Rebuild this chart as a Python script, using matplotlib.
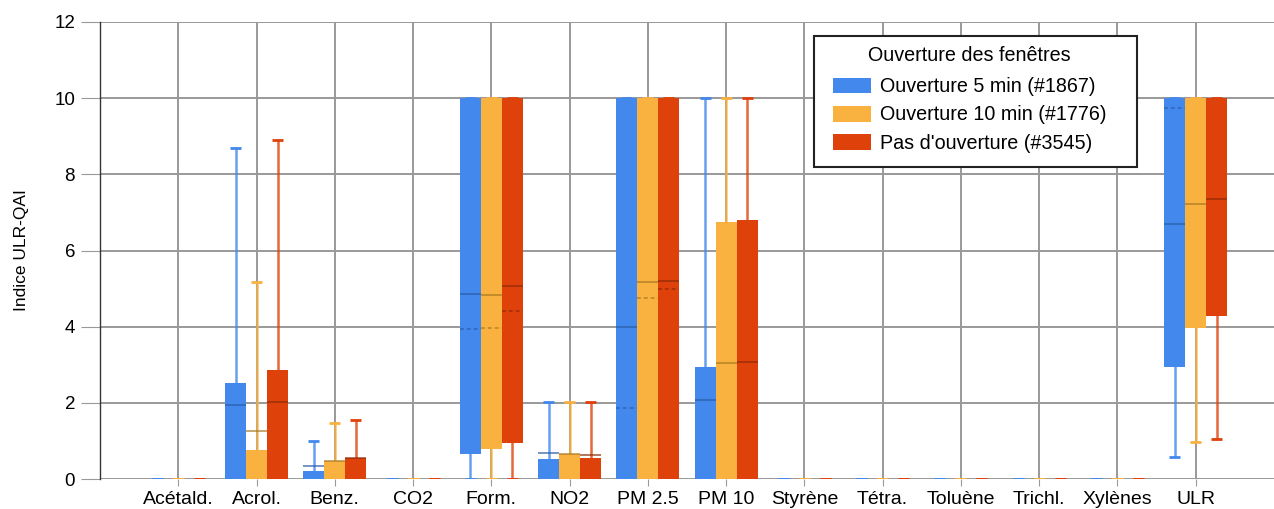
import numpy as np
import matplotlib
matplotlib.use("Agg")
import matplotlib.pyplot as plt
from matplotlib.patches import Patch, Rectangle

plt.rcParams['font.family'] = ['Liberation Sans', 'DejaVu Sans']

categories = ['Acétald.', 'Acrol.', 'Benz.', 'CO2', 'Form.', 'NO2', 'PM 2.5',
              'PM 10', 'Styrène', 'Tétra.', 'Toluène', 'Trichl.', 'Xylènes', 'ULR']
series = ['Ouverture 5 min (#1867)', 'Ouverture 10 min (#1776)', "Pas d'ouverture (#3545)"]
colors = ['#4288ED', '#F9B140', '#DF410B']
dark = ['#2A5CA8', '#A87820', '#8E2A06']

# per series: lists over categories (None where not visible)
whisk_lo = [
    [0, 0, 0, 0, 0, 0, 0, 0, 0, 0, 0, 0, 0, 0.57],
    [0, 0, 0, 0, 0, 0, 0, 0, 0, 0, 0, 0, 0, 0.97],
    [0, 0, 0, 0, 0, 0, 0, 0, 0, 0, 0, 0, 0, 1.06],
]
q1 = [
    [0, 0, 0, 0, 0.66, 0, 0, 0, 0, 0, 0, 0, 0, 2.95],
    [0, 0, 0, 0, 0.78, 0, 0, 0, 0, 0, 0, 0, 0, 3.97],
    [0, 0, 0, 0, 0.95, 0, 0, 0, 0, 0, 0, 0, 0, 4.29],
]
q3 = [
    [0, 2.51, 0.21, 0, 10, 0.53, 10, 2.94, 0, 0, 0, 0, 0, 10],
    [0, 0.76, 0.48, 0, 10, 0.65, 10, 6.76, 0, 0, 0, 0, 0, 10],
    [0, 2.85, 0.54, 0, 10, 0.56, 10, 6.80, 0, 0, 0, 0, 0, 10],
]
whisk_hi = [
    [0, 8.70, 1.01, 0, 10, 2.03, 10, 10, 0, 0, 0, 0, 0, 10],
    [0, 5.16, 1.46, 0, 10, 2.03, 10, 10, 0, 0, 0, 0, 0, 10],
    [0, 8.89, 1.55, 0, 10, 2.03, 10, 10, 0, 0, 0, 0, 0, 10],
]
means = [
    [None, 1.93, 0.34, None, 4.86, 0.69, 4.00, 2.07, None, None, None, None, None, 6.70],
    [None, 1.27, 0.47, None, 4.83, 0.65, 5.16, 3.04, None, None, None, None, None, 7.21],
    [None, 2.03, 0.55, None, 5.08, 0.64, 5.20, 3.06, None, None, None, None, None, 7.36],
]
medians = [
    [None, None, None, None, 3.93, None, 1.86, None, None, None, None, None, None, 9.73],
    [None, None, None, None, 3.97, None, 4.75, None, None, None, None, None, None, None],
    [None, None, None, None, 4.41, None, 4.98, None, None, None, None, None, None, None],
]

fig = plt.figure(figsize=(12.74, 5.09), dpi=100)
ax = fig.add_axes([100 / 1274, 30 / 509, 1174 / 1274, 457 / 509])

x = np.arange(len(categories))
w = 0.268
cap = 0.07
for s in range(3):
    xs = x + (s - 1) * w
    lo = np.array(whisk_lo[s]); hi = np.array(whisk_hi[s])
    b1 = np.array(q1[s]); b3 = np.array(q3[s])
    ax.vlines(xs, lo, hi, color=colors[s], lw=1.8, alpha=0.8, zorder=3)
    ax.hlines(lo, xs - cap, xs + cap, color=colors[s], lw=2, zorder=3)
    ax.hlines(hi, xs - cap, xs + cap, color=colors[s], lw=2, zorder=3)
    ax.bar(xs, b3 - b1, bottom=b1, width=w, color=colors[s], zorder=4,
           edgecolor='none')
    for i in range(len(categories)):
        if means[s][i] is not None:
            ax.hlines(means[s][i], xs[i] - w / 2, xs[i] + w / 2,
                      color=dark[s], lw=1.3, alpha=0.7, zorder=5)
        if medians[s][i] is not None:
            ax.hlines(medians[s][i], xs[i] - w / 2, xs[i] + w / 2,
                      color=dark[s], lw=1.1, alpha=0.8, linestyles=(0, (2.5, 2)),
                      zorder=5)

ax.set_xlim(-1, 14)
ax.set_ylim(0, 12)
ax.set_yticks(range(0, 13, 2))
ax.set_xticks(x)
ax.set_xticklabels(categories, fontsize=14)
ax.tick_params(axis='y', labelsize=13.5, length=14, color='#999999', pad=4)
ax.tick_params(axis='x', length=5, color='#999999', pad=4)
ax.grid(True, color='#999999', lw=1.4, zorder=0)
ax.set_axisbelow(True)
for side in ['top', 'right', 'bottom']:
    ax.spines[side].set_visible(False)
ax.spines['left'].set_color('#333333')
ax.spines['left'].set_linewidth(1)
ax.set_ylabel('Indice ULR-QAI', fontsize=12.5, labelpad=18)

# legend frame drawn separately so it can be wider than its content
ax.add_patch(Rectangle((0.6082, 0.6827), 0.2751, 0.2867, transform=ax.transAxes,
                       facecolor='white', edgecolor='#222222', lw=1.5,
                       clip_on=False, zorder=9))
handles = [Patch(facecolor=c, edgecolor='none') for c in colors]
leg = ax.legend(handles, series, title='Ouverture des fenêtres', loc='upper left',
                bbox_to_anchor=(0.6175, 0.965), fontsize=14.2, title_fontsize=14.2,
                frameon=False, handlelength=1.93, handleheight=0.85,
                labelspacing=0.47, borderpad=0.4, handletextpad=0.45,
                borderaxespad=0)
leg._legend_box.sep += 2.2  # a bit more room under the title
leg.set_zorder(10)

fig.savefig('out.png', dpi=100)
